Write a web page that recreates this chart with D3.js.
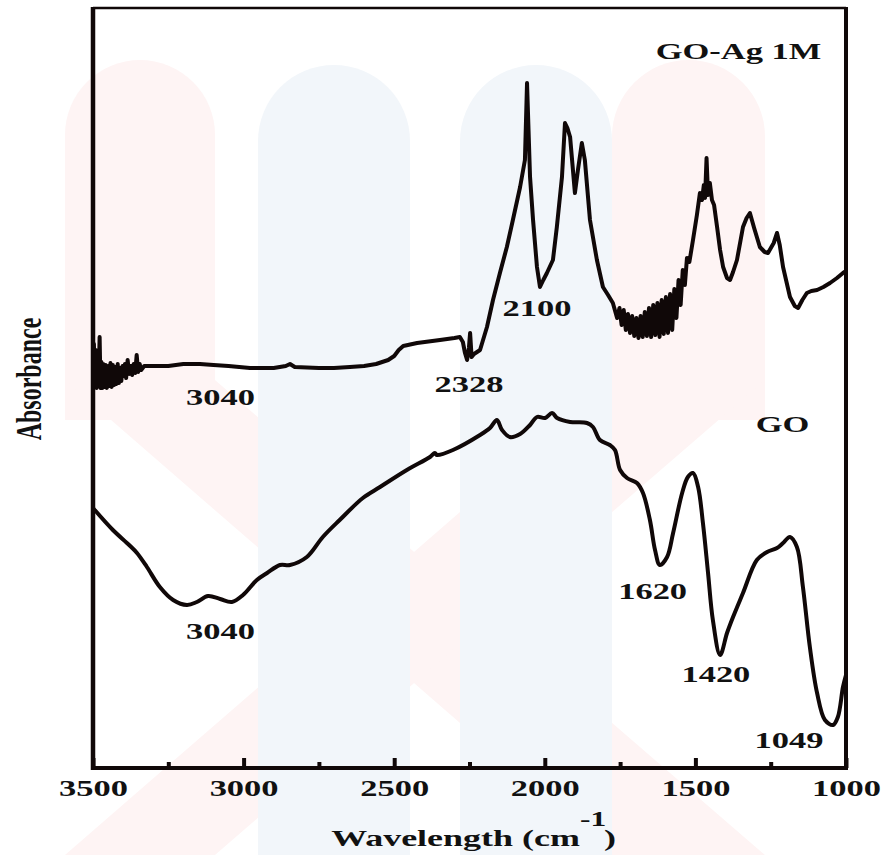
<!DOCTYPE html>
<html>
<head>
<meta charset="utf-8">
<script src="https://cdn.jsdelivr.net/npm/d3@7"></script>
<style>
  body { margin: 0; background: #fff; }
  svg text { font-family: "Liberation Serif", "Times New Roman", serif; font-weight: bold; fill: #111; }
</style>
</head>
<body>
<div id="chart"></div>
<script>
// FTIR spectra, [wavenumber cm-1, absorbance a.u.]
const goAgSpectrum = [
  [3500,40.0],[3497,42.4],[3494,38.2],[3491,41.8],[3488,38.0],[3485,41.2],[3482,38.2],[3478,43.1],
  [3475,38.0],[3472,40.6],[3469,38.0],[3466,40.4],[3462,38.1],[3458,40.3],[3454,38.0],[3450,40.2],
  [3446,38.2],[3442,40.5],[3438,38.1],[3434,40.3],[3430,38.3],[3426,40.1],[3422,38.4],[3418,40.4],
  [3414,38.5],[3410,40.0],[3406,38.7],[3402,40.2],[3398,39.2],[3394,40.4],[3390,39.0],[3385,40.8],
  [3380,39.4],[3375,40.2],[3370,39.3],[3365,40.4],[3360,39.5],[3355,41.3],[3350,39.6],[3345,40.4],
  [3340,39.8],[3330,40.2],[3311,40.2],[3250,40.2],[3200,40.4],[3145,40.4],[3100,40.3],[3050,40.2],
  [2979,40.0],[2900,40.0],[2860,40.2],[2846,40.4],[2830,40.1],[2750,40.0],[2700,40.0],[2647,40.1],
  [2600,40.2],[2560,40.4],[2520,40.8],[2500,41.2],[2485,41.8],[2470,42.2],[2424,42.5],[2348,42.8],
  [2300,43.0],[2282,43.1],[2272,42.6],[2265,41.5],[2258,40.8],[2252,42.0],[2248,43.5],[2243,41.1],
  [2235,41.4],[2215,41.8],[2192,44.1],[2172,46.8],[2149,49.5],[2126,52.1],[2106,54.8],[2082,58.1],
  [2066,60.8],[2059,68.5],[2049,59.1],[2039,54.8],[2026,50.1],[2016,48.1],[2005,48.8],[1993,49.5],
  [1973,50.8],[1960,54.1],[1943,59.1],[1933,64.5],[1925,64.0],[1916,63.1],[1900,57.5],[1890,59.8],
  [1877,62.5],[1867,60.8],[1850,54.8],[1827,50.8],[1807,48.1],[1790,47.3],[1774,46.5],
  [1760,45.0],[1752,46.0],[1745,44.3],[1738,45.8],[1731,43.8],[1724,45.4],[1717,43.5],[1710,45.2],
  [1703,43.2],[1696,45.0],[1689,43.0],[1682,45.2],[1675,43.1],[1668,45.6],[1661,43.2],[1654,46.0],
  [1647,43.1],[1640,46.3],[1633,43.3],[1626,46.5],[1619,43.1],[1612,46.8],[1605,43.4],[1598,47.1],
  [1591,43.5],[1584,47.4],[1577,43.8],[1570,47.9],[1563,45.0],[1556,48.8],[1549,46.3],[1542,49.8],
  [1535,48.3],[1528,51.0],[1520,50.6],[1508,52.8],[1495,55.3],[1485,57.5],[1478,56.8],[1472,58.3],
  [1468,57.0],[1463,61.0],[1458,57.3],[1452,58.5],[1445,56.8],[1438,56.3],[1428,54.1],[1418,51.8],
  [1408,50.1],[1395,49.0],[1385,48.8],[1375,49.6],[1362,50.8],[1342,54.1],[1330,55.0],[1319,55.5],
  [1305,54.0],[1286,52.1],[1270,51.6],[1259,51.5],[1240,52.5],[1229,53.5],[1220,52.3],[1209,50.1],
  [1186,47.1],[1170,46.2],[1159,46.0],[1145,46.8],[1130,47.5],[1115,47.7],[1096,47.8],[1075,48.1],
  [1053,48.5],[1030,49.0],[1010,49.5],[1000,49.7]
];

const goSpectrum = [
  [3500,26.0],[3434,23.8],[3380,22.3],[3354,21.5],[3321,20.1],[3278,18.1],[3234,16.8],[3188,16.3],
  [3155,16.6],[3118,17.2],[3078,16.9],[3039,16.6],[3002,17.3],[2956,18.8],[2922,19.5],[2879,20.3],
  [2846,20.3],[2790,21.1],[2737,23.1],[2681,24.8],[2604,27.0],[2547,28.1],[2458,29.8],[2381,31.1],
  [2365,31.5],[2358,31.3],[2305,31.8],[2215,33.3],[2182,34.0],[2159,34.8],[2142,33.8],[2116,33.1],
  [2082,33.4],[2049,34.3],[2026,35.1],[1999,35.0],[1976,35.5],[1959,35.0],[1916,34.6],[1860,34.5],
  [1840,34.1],[1817,32.8],[1784,32.3],[1767,31.8],[1750,29.8],[1727,29.0],[1694,28.5],[1674,27.5],
  [1651,24.8],[1634,21.8],[1618,20.3],[1594,21.1],[1574,23.5],[1544,27.5],[1525,29.1],[1508,29.5],
  [1491,28.1],[1475,24.5],[1458,19.5],[1442,14.8],[1418,11.3],[1395,13.5],[1375,15.1],[1342,17.5],
  [1296,20.8],[1262,21.6],[1229,22.0],[1209,22.5],[1186,23.1],[1163,22.1],[1143,18.1],[1120,12.1],
  [1096,7.5],[1070,4.8],[1043,4.3],[1027,5.1],[1010,8.1],[1000,9.3]
];

const majorTicks = [3500, 3000, 2500, 2000, 1500, 1000];
const minorTicks = [3250, 2750, 2250, 1750, 1250];

// peak / series labels, anchored in data units (centre, baseline)
const annotations = [
  { text: "GO-Ag 1M", wn: 1357, abs: 70.9 },
  { text: "GO", wn: 1211, abs: 33.6 },
  { text: "3040", wn: 3077, abs: 36.3 },
  { text: "2328", wn: 2252, abs: 37.6 },
  { text: "2100", wn: 2026, abs: 45.2 },
  { text: "3040", wn: 3077, abs: 12.9 },
  { text: "1620", wn: 1642, abs: 16.9 },
  { text: "1420", wn: 1432, abs: 8.6 },
  { text: "1049", wn: 1189, abs: 2.0 }
];

const width = 884, height = 855;
const plot = { left: 93, right: 846, top: 8, bottom: 768 };
const ink = "#100808";
const stretch = 1.5; // the source figure is stretched horizontally

const svg = d3.select("#chart").append("svg")
  .attr("width", width)
  .attr("height", height);

// faint watermark behind the figure
const pink = "#fef4f4", blue = "#f2f6fa";
function pillar(x0, x1, top, bottom) {
  const r = (x1 - x0) / 2;
  return `M${x0},${bottom}V${top + r}A${r},${r} 0 0 1 ${x1},${top + r}V${bottom}Z`;
}
const wm = svg.append("g");
wm.append("path").attr("d", pillar(65, 215, 60, 420)).attr("fill", pink);
wm.append("path").attr("d", pillar(612, 765, 60, 420)).attr("fill", pink);
wm.append("path").attr("d", "M65,380L215,380L765,855L612,855Z").attr("fill", pink);
wm.append("path").attr("d", "M612,380L765,380L215,855L65,855Z").attr("fill", pink);
wm.append("path").attr("d", pillar(258, 410, 65, 855)).attr("fill", blue);
wm.append("path").attr("d", pillar(460, 612, 65, 855)).attr("fill", blue);

const x = d3.scaleLinear().domain([3500, 1000]).range([plot.left, plot.right]);
const y = d3.scaleLinear().domain([0, 76]).range([plot.bottom, plot.top]);

// spectra
const line = d3.line().x(d => x(d[0])).y(d => y(d[1]));
svg.append("path")
  .datum(goAgSpectrum)
  .attr("d", line)
  .attr("fill", "none")
  .attr("stroke", ink)
  .attr("stroke-width", 4)
  .attr("stroke-linejoin", "round");

svg.append("path")
  .datum(goSpectrum)
  .attr("d", line.curve(d3.curveCatmullRom.alpha(0.5)))
  .attr("fill", "none")
  .attr("stroke", ink)
  .attr("stroke-width", 4)
  .attr("stroke-linejoin", "round");

// frame
svg.append("line").attr("x1", plot.left).attr("x2", plot.right).attr("y1", plot.top).attr("y2", plot.top)
  .attr("stroke", ink).attr("stroke-width", 2.5);
svg.append("line").attr("x1", plot.left).attr("x2", plot.left).attr("y1", plot.top - 1).attr("y2", plot.bottom + 2)
  .attr("stroke", ink).attr("stroke-width", 4.5);
svg.append("line").attr("x1", plot.right).attr("x2", plot.right).attr("y1", plot.top - 1).attr("y2", plot.bottom + 2)
  .attr("stroke", ink).attr("stroke-width", 4);
svg.append("line").attr("x1", plot.left - 2).attr("x2", plot.right + 2).attr("y1", plot.bottom).attr("y2", plot.bottom)
  .attr("stroke", ink).attr("stroke-width", 4);

// x axis, ticks pointing inward
const gx = svg.append("g")
  .attr("transform", `translate(0,${plot.bottom})`)
  .call(d3.axisBottom(x).tickValues(majorTicks).tickSizeInner(-10).tickSizeOuter(0).tickFormat(d3.format("d")));
gx.select(".domain").remove();
gx.selectAll(".tick line").attr("stroke", ink).attr("stroke-width", 4);
gx.selectAll(".tick text")
  .attr("y", 28)
  .attr("dy", null)
  .attr("transform", `scale(${stretch},1)`)
  .style("font-size", "23px");

const gxMinor = svg.append("g")
  .attr("transform", `translate(0,${plot.bottom})`)
  .call(d3.axisBottom(x).tickValues(minorTicks).tickSizeInner(-6).tickSizeOuter(0).tickFormat(""));
gxMinor.select(".domain").remove();
gxMinor.selectAll(".tick line").attr("stroke", ink).attr("stroke-width", 4);

// axis titles
svg.append("text")
  .attr("transform", `translate(580,846) scale(${stretch},1)`)
  .attr("text-anchor", "end")
  .style("font-size", "24px")
  .text("Wavelength (cm");
svg.append("text")
  .attr("transform", `translate(580,826) scale(${stretch},1)`)
  .style("font-size", "21px")
  .text("-1");
svg.append("text")
  .attr("transform", `translate(604,846) scale(${stretch},1)`)
  .style("font-size", "24px")
  .text(")");

svg.append("text")
  .attr("transform", `translate(41,379) scale(${stretch},1) rotate(-90)`)
  .attr("text-anchor", "middle")
  .style("font-size", "24px")
  .text("Absorbance");

// labels
svg.selectAll("text.annot")
  .data(annotations)
  .join("text")
  .attr("class", "annot")
  .attr("transform", d => `translate(${x(d.wn)},${y(d.abs)}) scale(${stretch},1)`)
  .attr("text-anchor", "middle")
  .style("font-size", "23px")
  .text(d => d.text);
</script>
</body>
</html>
